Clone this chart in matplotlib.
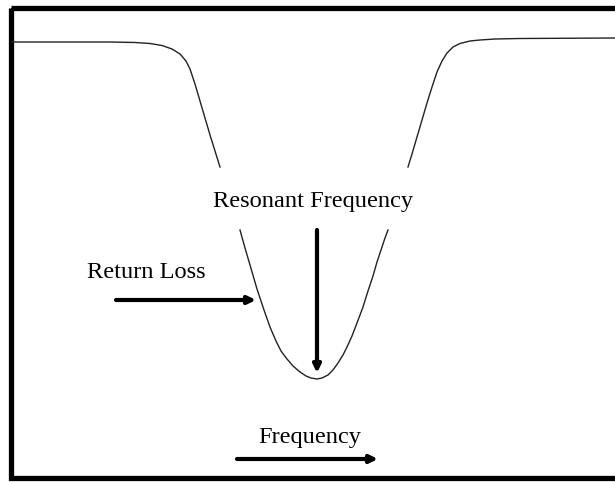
import numpy as np
import matplotlib.pyplot as plt
from matplotlib.patches import Rectangle

# return loss curve (x = frequency, y = depth, pixel-like units)
# nan marks the gaps where the curve is broken around the label
freq = [12, 60, 110, 135, 150, 162, 172, 180, 186, 190, 195, 200, 205, 210, 215, 220,
        np.nan,
        240, 245, 250, 257, 264, 270, 276, 281, 287, 293, 300, 306, 311, 317, 322,
        328, 333, 338, 343, 347, 352, 357, 363, 368, 373, 377, 381, 385, 388,
        np.nan,
        408, 412, 417, 422, 427, 432, 437, 442, 447, 453, 460, 470, 480, 495, 520, 615]
loss = [42, 42, 42, 42.5, 43.5, 45.5, 49, 54, 61, 69, 84, 101, 118, 135, 151, 167,
        np.nan,
        230, 248, 265, 289, 310, 327, 341, 351, 359, 366, 372, 376, 378, 379, 378,
        375, 370, 363, 355, 347, 336, 323, 307, 291, 276, 262, 250, 238, 230,
        np.nan,
        167, 154, 137, 120, 103, 87, 72, 61, 53, 47, 43.5, 41, 40, 39, 38.5, 38]

labels = ["Resonant Frequency", "Return Loss", "Frequency"]

fig = plt.figure(figsize=(6.15, 4.82), dpi=100)
ax = fig.add_axes([0, 0, 1, 1])
ax.set_xlim(0, 615)
ax.set_ylim(482, 0)
ax.axis("off")

# outer frame (right side runs off the image)
ax.add_patch(Rectangle((10.5, 7.5), 640, 470, fill=False, lw=3.8, ec="black"))

ax.plot(freq, loss, color="#222222", lw=1.0)

font = dict(family="Liberation Serif", fontsize=17.6, color="black")
ax.text(313, 202, labels[0], ha="center", va="center", **font)
ax.text(146, 273, labels[1], ha="center", va="center", **font)
ax.text(310, 437, labels[2], ha="center", va="center", **font)

arrow = dict(arrowstyle="-|>,head_length=0.45,head_width=0.22", lw=3.0, color="black",
             shrinkA=0, shrinkB=0)
ax.annotate("", xy=(317, 373), xytext=(317, 230), arrowprops=arrow)
ax.annotate("", xy=(256, 300), xytext=(116, 300), arrowprops=arrow)
ax.annotate("", xy=(378, 459), xytext=(237, 459), arrowprops=arrow)

fig.savefig("out.png", dpi=100)
